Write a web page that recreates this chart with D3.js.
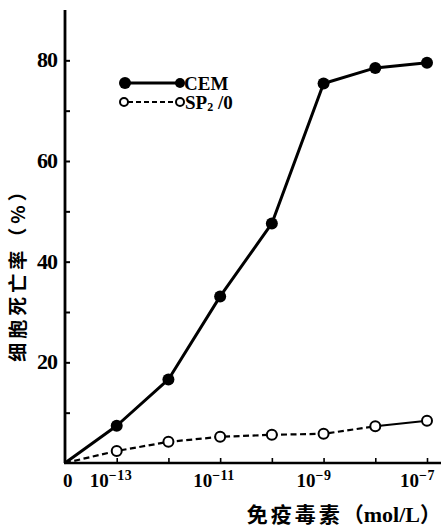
<!DOCTYPE html>
<html><head><meta charset="utf-8">
<script src="https://cdn.jsdelivr.net/npm/d3@7"></script>
<style>
html,body{margin:0;padding:0;background:#fff;}
svg{display:block;}
</style></head>
<body>
<svg id="c" width="443" height="532"></svg>
<script>
// ---- data ----
const concentrations = [1e-14, 1e-13, 1e-12, 1e-11, 1e-10, 1e-9, 1e-8, 1e-7]; // first = "0" origin
const cemValues = [0, 7.4, 16.6, 33.1, 47.6, 75.4, 78.5, 79.5];
const sp20Values = [0, 2.4, 4.2, 5.2, 5.6, 5.8, 7.3, 8.4];
const seriesNames = ["CEM", "SP2/0"];
const yTickValues = [20, 40, 60, 80];
const yMinorTicks = [10, 30, 50, 70];
const xTickValues = [1e-14, 1e-13, 1e-11, 1e-9, 1e-7];
const xTickLabels = [["0", ""], ["10", "\u221213"], ["10", "\u221211"], ["10", "\u22129"], ["10", "\u22127"]];
const xTitleParts = ["免疫毒素", "（", "mol/L", "）"];
const yTitle = "细胞死亡率（%）";

const svg = d3.select("#c");
const serif = "'Liberation Serif','DejaVu Serif',serif";
const cjk = "'Noto Sans CJK SC','Noto Sans CJK JP',sans-serif";

const x = d3.scaleLog().domain([1e-14, 1e-7]).range([65, 427]);
const y = d3.scaleLinear().domain([0, 90]).range([463, 10]);

// axes lines
svg.append("line").attr("x1", 65).attr("x2", 65).attr("y1", y(0)).attr("y2", y(90))
  .attr("stroke", "#000").attr("stroke-width", 2.8);
svg.append("line").attr("x1", 64).attr("x2", 441).attr("y1", y(0)).attr("y2", y(0))
  .attr("stroke", "#000").attr("stroke-width", 2.4);

// y ticks (inward)
const yAxis = svg.append("g").attr("transform", "translate(65,0)")
  .call(d3.axisRight(y).tickValues(yTickValues.concat(yMinorTicks)).tickSize(5).tickFormat(""));
yAxis.select(".domain").remove();
yAxis.selectAll("line").attr("stroke-width", 2);
svg.selectAll(".ylab").data(yTickValues).enter().append("text")
  .attr("x", 57).attr("y", d => y(d) + 7).attr("text-anchor", "end")
  .attr("font-family", serif).attr("font-weight", "bold").attr("font-size", 22)
  .attr("letter-spacing", -1)
  .text(d => d);

// x ticks (inward)
const xAxis = svg.append("g").attr("transform", `translate(0,${y(0)})`)
  .call(d3.axisBottom(x).tickValues(concentrations.slice(1)).tickSize(-5).tickFormat(""));
xAxis.select(".domain").remove();
xAxis.selectAll("line").attr("stroke-width", 1.6);

const xl = svg.selectAll(".xlab").data(xTickValues).enter().append("text")
  .attr("x", (d, i) => x(d) + (i === 0 ? -2 : -27)).attr("y", 487)
  .attr("font-family", serif).attr("font-weight", "bold").attr("font-size", 19);
xl.append("tspan").text((d, i) => xTickLabels[i][0]);
xl.append("tspan").attr("dy", -7).attr("font-size", 14).attr("letter-spacing", 0.5).text((d, i) => xTickLabels[i][1]);

// titles
const xt = svg.append("text").attr("x", 441).attr("y", 522).attr("text-anchor", "end")
  .attr("font-weight", "bold").attr("font-size", 21);
xt.append("tspan").attr("font-family", cjk).attr("letter-spacing", 3).text(xTitleParts[0]);
xt.append("tspan").attr("font-family", cjk).text(xTitleParts[1]);
xt.append("tspan").attr("font-family", serif).attr("font-size", 22).text(xTitleParts[2]);
xt.append("tspan").attr("font-family", cjk).text(xTitleParts[3]);

svg.append("text").attr("transform", "translate(25,270) rotate(-90)").attr("text-anchor", "middle")
  .attr("font-family", cjk).attr("font-weight", "bold").attr("font-size", 19)
  .attr("letter-spacing", 4)
  .text(yTitle);

// lines
const line = d3.line().x(d => x(d[0])).y(d => y(d[1]));
const spPts = concentrations.map((c, i) => [c, sp20Values[i]]);
svg.append("path").datum(concentrations.map((c, i) => [c, cemValues[i]])).attr("d", line).attr("fill", "none")
  .attr("stroke", "#000").attr("stroke-width", 3).attr("stroke-linejoin", "round");
svg.append("path").datum(spPts.slice(0, 7)).attr("d", line).attr("fill", "none")
  .attr("stroke", "#000").attr("stroke-width", 2.2).attr("stroke-dasharray", "6,3.5");
svg.append("path").datum(spPts.slice(6)).attr("d", line).attr("fill", "none")
  .attr("stroke", "#000").attr("stroke-width", 2);

svg.selectAll(".cem").data(cemValues.slice(1)).enter().append("circle")
  .attr("cx", (d, i) => x(concentrations[i + 1])).attr("cy", d => y(d)).attr("r", 6).attr("fill", "#000");
svg.selectAll(".sp").data(sp20Values.slice(1)).enter().append("circle")
  .attr("cx", (d, i) => x(concentrations[i + 1])).attr("cy", d => y(d)).attr("r", 5)
  .attr("fill", "#fff").attr("stroke", "#000").attr("stroke-width", 2);

// legend
const lg = svg.append("g");
lg.append("line").attr("x1", 125).attr("x2", 180).attr("y1", 83).attr("y2", 83).attr("stroke", "#000").attr("stroke-width", 3);
lg.append("circle").attr("cx", 125).attr("cy", 83).attr("r", 6).attr("fill", "#000");
lg.append("circle").attr("cx", 180).attr("cy", 83).attr("r", 5).attr("fill", "#000");
lg.append("text").attr("x", 184).attr("y", 90).attr("font-family", serif).attr("font-weight", "bold")
  .attr("font-size", 19).text(seriesNames[0]);
lg.append("line").attr("x1", 128).attr("x2", 176).attr("y1", 102).attr("y2", 102).attr("stroke", "#000")
  .attr("stroke-width", 2.2).attr("stroke-dasharray", "5,3");
lg.append("circle").attr("cx", 124).attr("cy", 102).attr("r", 4).attr("fill", "#fff").attr("stroke", "#000").attr("stroke-width", 2);
lg.append("circle").attr("cx", 180).attr("cy", 102).attr("r", 4).attr("fill", "#fff").attr("stroke", "#000").attr("stroke-width", 2);
const sp = lg.append("text").attr("x", 185).attr("y", 109).attr("font-family", serif).attr("font-weight", "bold").attr("font-size", 19);
sp.append("tspan").text("SP");
sp.append("tspan").attr("font-size", 12).attr("dy", 2).text("2");
sp.append("tspan").attr("dy", -2).text(" /0");
</script>
</body></html>
